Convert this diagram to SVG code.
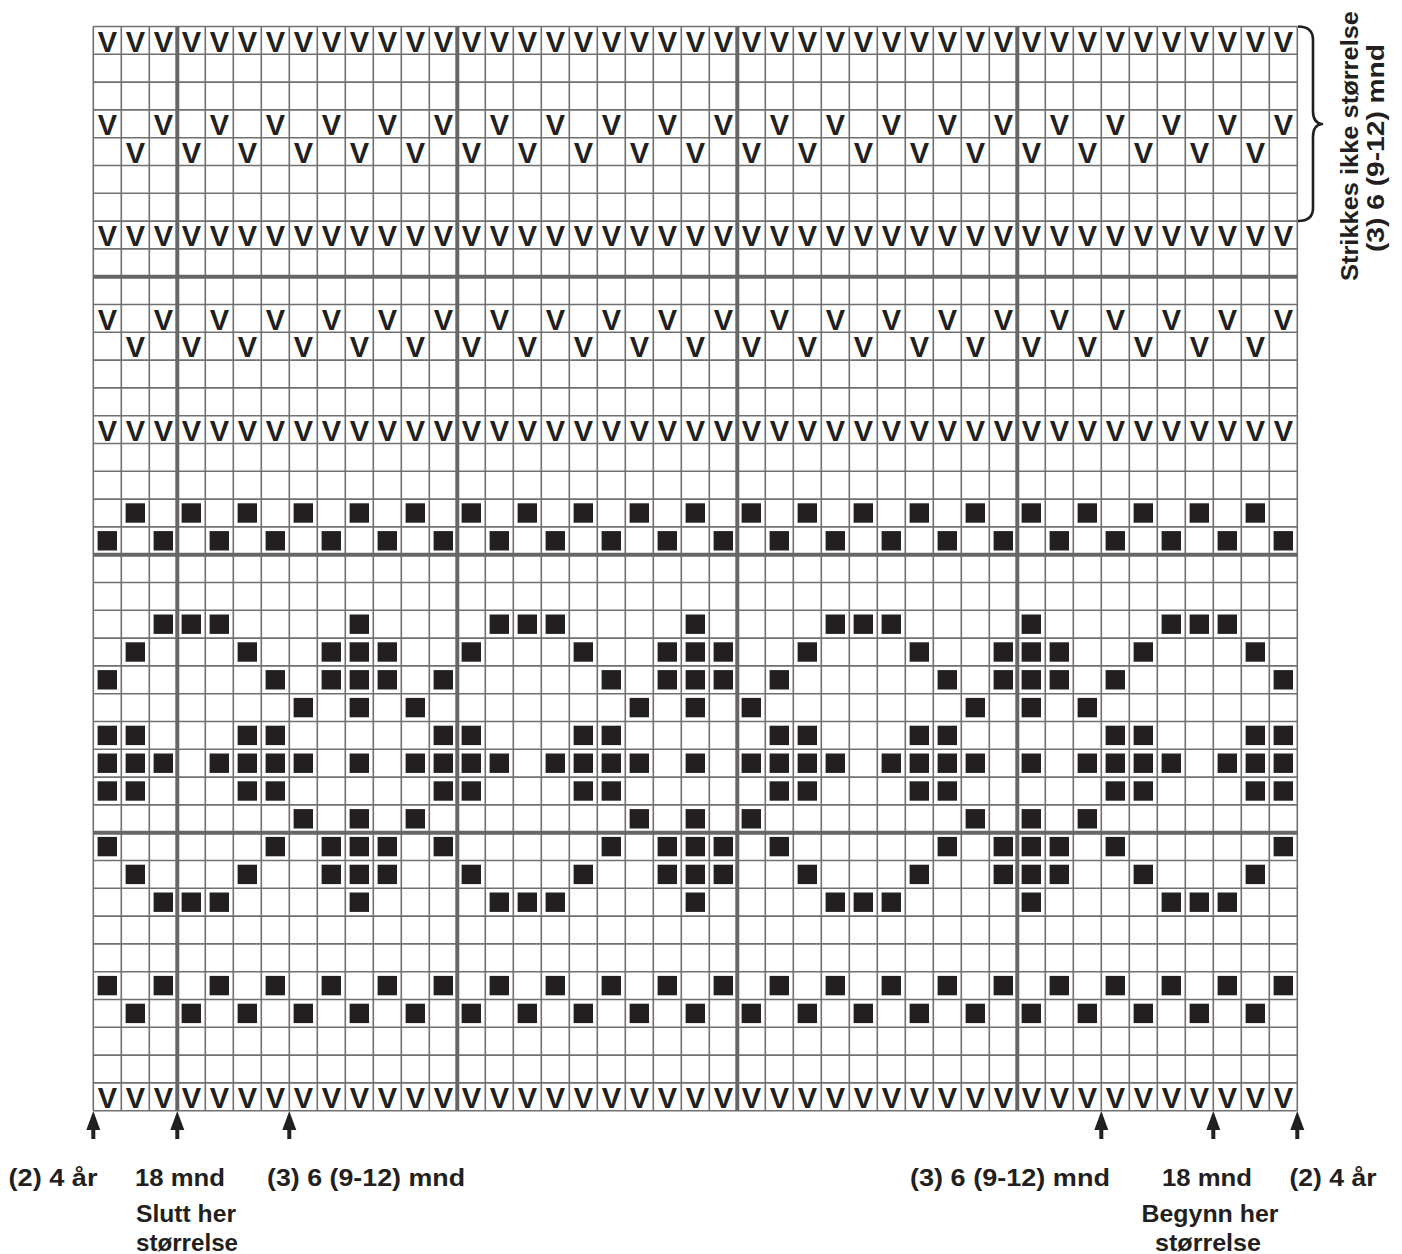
<svg xmlns="http://www.w3.org/2000/svg" xmlns:xlink="http://www.w3.org/1999/xlink" width="1402" height="1254" viewBox="0 0 1402 1254">
<style>
.bg{fill:#ffffff}
.thin{stroke:#707070;stroke-width:1.6;fill:none}
.thick{stroke:#666666;stroke-width:4;fill:none}
.v{font-family:"Liberation Sans",Arial,Helvetica,sans-serif;font-weight:bold;font-size:29px;fill:#231f20;text-anchor:middle}
.sq{fill:#231f20}
.t{font-family:"Liberation Sans",Arial,Helvetica,sans-serif;font-weight:bold;font-size:24.5px;fill:#231f20;text-anchor:middle}
.tv{font-family:"Liberation Sans",Arial,Helvetica,sans-serif;font-weight:bold;font-size:24px;fill:#231f20;text-anchor:middle}
.arw{fill:#231f20}
.brace{stroke:#231f20;stroke-width:2.6;fill:none;stroke-linejoin:round}
</style>
<defs>
<text id="v" class="v" x="14" y="25">V</text>
<rect id="s" class="sq" x="4.3" y="4.2" width="19.4" height="19.4"/>
<g id="arrow"><polygon points="0,0 -7,19 7,19"/><rect x="-2" y="18" width="4" height="10"/></g>
<g id="vAll"><use href="#v" x="0"/><use href="#v" x="28"/><use href="#v" x="56"/><use href="#v" x="84"/><use href="#v" x="112"/><use href="#v" x="140"/><use href="#v" x="168"/><use href="#v" x="196"/><use href="#v" x="224"/><use href="#v" x="252"/><use href="#v" x="280"/><use href="#v" x="308"/><use href="#v" x="336"/><use href="#v" x="364"/><use href="#v" x="392"/><use href="#v" x="420"/><use href="#v" x="448"/><use href="#v" x="476"/><use href="#v" x="504"/><use href="#v" x="532"/><use href="#v" x="560"/><use href="#v" x="588"/><use href="#v" x="616"/><use href="#v" x="644"/><use href="#v" x="672"/><use href="#v" x="700"/><use href="#v" x="728"/><use href="#v" x="756"/><use href="#v" x="784"/><use href="#v" x="812"/><use href="#v" x="840"/><use href="#v" x="868"/><use href="#v" x="896"/><use href="#v" x="924"/><use href="#v" x="952"/><use href="#v" x="980"/><use href="#v" x="1008"/><use href="#v" x="1036"/><use href="#v" x="1064"/><use href="#v" x="1092"/><use href="#v" x="1120"/><use href="#v" x="1148"/><use href="#v" x="1176"/></g>
<g id="vEven"><use href="#v" x="0"/><use href="#v" x="56"/><use href="#v" x="112"/><use href="#v" x="168"/><use href="#v" x="224"/><use href="#v" x="280"/><use href="#v" x="336"/><use href="#v" x="392"/><use href="#v" x="448"/><use href="#v" x="504"/><use href="#v" x="560"/><use href="#v" x="616"/><use href="#v" x="672"/><use href="#v" x="728"/><use href="#v" x="784"/><use href="#v" x="840"/><use href="#v" x="896"/><use href="#v" x="952"/><use href="#v" x="1008"/><use href="#v" x="1064"/><use href="#v" x="1120"/><use href="#v" x="1176"/></g>
<g id="vOdd"><use href="#v" x="28"/><use href="#v" x="84"/><use href="#v" x="140"/><use href="#v" x="196"/><use href="#v" x="252"/><use href="#v" x="308"/><use href="#v" x="364"/><use href="#v" x="420"/><use href="#v" x="476"/><use href="#v" x="532"/><use href="#v" x="588"/><use href="#v" x="644"/><use href="#v" x="700"/><use href="#v" x="756"/><use href="#v" x="812"/><use href="#v" x="868"/><use href="#v" x="924"/><use href="#v" x="980"/><use href="#v" x="1036"/><use href="#v" x="1092"/><use href="#v" x="1148"/></g>
<g id="sEven"><use href="#s" x="0"/><use href="#s" x="56"/><use href="#s" x="112"/><use href="#s" x="168"/><use href="#s" x="224"/><use href="#s" x="280"/><use href="#s" x="336"/><use href="#s" x="392"/><use href="#s" x="448"/><use href="#s" x="504"/><use href="#s" x="560"/><use href="#s" x="616"/><use href="#s" x="672"/><use href="#s" x="728"/><use href="#s" x="784"/><use href="#s" x="840"/><use href="#s" x="896"/><use href="#s" x="952"/><use href="#s" x="1008"/><use href="#s" x="1064"/><use href="#s" x="1120"/><use href="#s" x="1176"/></g>
<g id="sOdd"><use href="#s" x="28"/><use href="#s" x="84"/><use href="#s" x="140"/><use href="#s" x="196"/><use href="#s" x="252"/><use href="#s" x="308"/><use href="#s" x="364"/><use href="#s" x="420"/><use href="#s" x="476"/><use href="#s" x="532"/><use href="#s" x="588"/><use href="#s" x="644"/><use href="#s" x="700"/><use href="#s" x="756"/><use href="#s" x="812"/><use href="#s" x="868"/><use href="#s" x="924"/><use href="#s" x="980"/><use href="#s" x="1036"/><use href="#s" x="1092"/><use href="#s" x="1148"/></g>
<g id="m21"><use href="#s" x="56"/><use href="#s" x="84"/><use href="#s" x="112"/><use href="#s" x="252"/><use href="#s" x="392"/><use href="#s" x="420"/><use href="#s" x="448"/><use href="#s" x="588"/><use href="#s" x="728"/><use href="#s" x="756"/><use href="#s" x="784"/><use href="#s" x="924"/><use href="#s" x="1064"/><use href="#s" x="1092"/><use href="#s" x="1120"/></g>
<g id="m22"><use href="#s" x="28"/><use href="#s" x="140"/><use href="#s" x="224"/><use href="#s" x="252"/><use href="#s" x="280"/><use href="#s" x="364"/><use href="#s" x="476"/><use href="#s" x="560"/><use href="#s" x="588"/><use href="#s" x="616"/><use href="#s" x="700"/><use href="#s" x="812"/><use href="#s" x="896"/><use href="#s" x="924"/><use href="#s" x="952"/><use href="#s" x="1036"/><use href="#s" x="1148"/></g>
<g id="m23"><use href="#s" x="0"/><use href="#s" x="168"/><use href="#s" x="224"/><use href="#s" x="252"/><use href="#s" x="280"/><use href="#s" x="336"/><use href="#s" x="504"/><use href="#s" x="560"/><use href="#s" x="588"/><use href="#s" x="616"/><use href="#s" x="672"/><use href="#s" x="840"/><use href="#s" x="896"/><use href="#s" x="924"/><use href="#s" x="952"/><use href="#s" x="1008"/><use href="#s" x="1176"/></g>
<g id="m24"><use href="#s" x="196"/><use href="#s" x="252"/><use href="#s" x="308"/><use href="#s" x="532"/><use href="#s" x="588"/><use href="#s" x="644"/><use href="#s" x="868"/><use href="#s" x="924"/><use href="#s" x="980"/></g>
<g id="m25"><use href="#s" x="0"/><use href="#s" x="28"/><use href="#s" x="140"/><use href="#s" x="168"/><use href="#s" x="336"/><use href="#s" x="364"/><use href="#s" x="476"/><use href="#s" x="504"/><use href="#s" x="672"/><use href="#s" x="700"/><use href="#s" x="812"/><use href="#s" x="840"/><use href="#s" x="1008"/><use href="#s" x="1036"/><use href="#s" x="1148"/><use href="#s" x="1176"/></g>
<g id="m26"><use href="#s" x="0"/><use href="#s" x="28"/><use href="#s" x="56"/><use href="#s" x="112"/><use href="#s" x="140"/><use href="#s" x="168"/><use href="#s" x="196"/><use href="#s" x="252"/><use href="#s" x="308"/><use href="#s" x="336"/><use href="#s" x="364"/><use href="#s" x="392"/><use href="#s" x="448"/><use href="#s" x="476"/><use href="#s" x="504"/><use href="#s" x="532"/><use href="#s" x="588"/><use href="#s" x="644"/><use href="#s" x="672"/><use href="#s" x="700"/><use href="#s" x="728"/><use href="#s" x="784"/><use href="#s" x="812"/><use href="#s" x="840"/><use href="#s" x="868"/><use href="#s" x="924"/><use href="#s" x="980"/><use href="#s" x="1008"/><use href="#s" x="1036"/><use href="#s" x="1064"/><use href="#s" x="1120"/><use href="#s" x="1148"/><use href="#s" x="1176"/></g>
</defs>
<rect class="bg" x="0" y="0" width="1402" height="1254"/>
<g id="chart" transform="translate(93.3,26.5)">
<g id="grid">
<path class="thin" d="M0,0V1084.2M28,0V1084.2M56,0V1084.2M84,0V1084.2M112,0V1084.2M140,0V1084.2M168,0V1084.2M196,0V1084.2M224,0V1084.2M252,0V1084.2M280,0V1084.2M308,0V1084.2M336,0V1084.2M364,0V1084.2M392,0V1084.2M420,0V1084.2M448,0V1084.2M476,0V1084.2M504,0V1084.2M532,0V1084.2M560,0V1084.2M588,0V1084.2M616,0V1084.2M644,0V1084.2M672,0V1084.2M700,0V1084.2M728,0V1084.2M756,0V1084.2M784,0V1084.2M812,0V1084.2M840,0V1084.2M868,0V1084.2M896,0V1084.2M924,0V1084.2M952,0V1084.2M980,0V1084.2M1008,0V1084.2M1036,0V1084.2M1064,0V1084.2M1092,0V1084.2M1120,0V1084.2M1148,0V1084.2M1176,0V1084.2M1204,0V1084.2"/>
<path class="thin" d="M0,0H1204M0,27.8H1204M0,55.6H1204M0,83.4H1204M0,111.2H1204M0,139H1204M0,166.8H1204M0,194.6H1204M0,222.4H1204M0,250.2H1204M0,278H1204M0,305.8H1204M0,333.6H1204M0,361.4H1204M0,389.2H1204M0,417H1204M0,444.8H1204M0,472.6H1204M0,500.4H1204M0,528.2H1204M0,556H1204M0,583.8H1204M0,611.6H1204M0,639.4H1204M0,667.2H1204M0,695H1204M0,722.8H1204M0,750.6H1204M0,778.4H1204M0,806.2H1204M0,834H1204M0,861.8H1204M0,889.6H1204M0,917.4H1204M0,945.2H1204M0,973H1204M0,1000.8H1204M0,1028.6H1204M0,1056.4H1204M0,1084.2H1204"/>
<path class="thick" d="M84,0V1084.2M364,0V1084.2M644,0V1084.2M924,0V1084.2M0,250.2H1204M0,528.2H1204M0,806.2H1204"/>
</g>
<g id="stitches">
<use href="#vAll" y="0"/>
<use href="#vEven" y="83.4"/>
<use href="#vOdd" y="111.2"/>
<use href="#vAll" y="194.6"/>
<use href="#vEven" y="278"/>
<use href="#vOdd" y="305.8"/>
<use href="#vAll" y="389.2"/>
<use href="#sOdd" y="472.6"/>
<use href="#sEven" y="500.4"/>
<use href="#m21" y="583.8"/>
<use href="#m22" y="611.6"/>
<use href="#m23" y="639.4"/>
<use href="#m24" y="667.2"/>
<use href="#m25" y="695"/>
<use href="#m26" y="722.8"/>
<use href="#m25" y="750.6"/>
<use href="#m24" y="778.4"/>
<use href="#m23" y="806.2"/>
<use href="#m22" y="834"/>
<use href="#m21" y="861.8"/>
<use href="#sEven" y="945.2"/>
<use href="#sOdd" y="973"/>
<use href="#vAll" y="1056.4"/>
</g>
</g>
<g id="arrows" class="arw">
<use href="#arrow" x="93.3" y="1111"/>
<use href="#arrow" x="177.3" y="1111"/>
<use href="#arrow" x="289.3" y="1111"/>
<use href="#arrow" x="1101.3" y="1111"/>
<use href="#arrow" x="1213.3" y="1111"/>
<use href="#arrow" x="1297.3" y="1111"/>
</g>
<g id="brace-group">
<path class="brace" d="M1298,26.5 Q1313,26.5 1313,40 L1313,111 Q1313,123 1322,124 Q1313,125 1313,137 L1313,208 Q1313,221 1298,221"/>
</g>
<g id="labels">
<text class="t" x="53" y="1186" textLength="89" lengthAdjust="spacingAndGlyphs">(2) 4 år</text>
<text class="t" x="180" y="1186" textLength="90" lengthAdjust="spacingAndGlyphs">18 mnd</text>
<text class="t" x="366" y="1186" textLength="198" lengthAdjust="spacingAndGlyphs">(3) 6 (9-12) mnd</text>
<text class="t" x="186" y="1222" textLength="100" lengthAdjust="spacingAndGlyphs">Slutt her</text>
<text class="t" x="187" y="1251" textLength="102" lengthAdjust="spacingAndGlyphs">størrelse</text>
<text class="t" x="1010" y="1186" textLength="200" lengthAdjust="spacingAndGlyphs">(3) 6 (9-12) mnd</text>
<text class="t" x="1207" y="1186" textLength="90" lengthAdjust="spacingAndGlyphs">18 mnd</text>
<text class="t" x="1333" y="1186" textLength="87" lengthAdjust="spacingAndGlyphs">(2) 4 år</text>
<text class="t" x="1210" y="1222" textLength="137" lengthAdjust="spacingAndGlyphs">Begynn her</text>
<text class="t" x="1208" y="1251" textLength="106" lengthAdjust="spacingAndGlyphs">størrelse</text>
<text class="tv" transform="translate(1358,146) rotate(-90)" textLength="270" lengthAdjust="spacingAndGlyphs">Strikkes ikke størrelse</text>
<text class="tv" transform="translate(1384,148) rotate(-90)" textLength="208" lengthAdjust="spacingAndGlyphs">(3) 6 (9-12) mnd</text>
</g>
</svg>
